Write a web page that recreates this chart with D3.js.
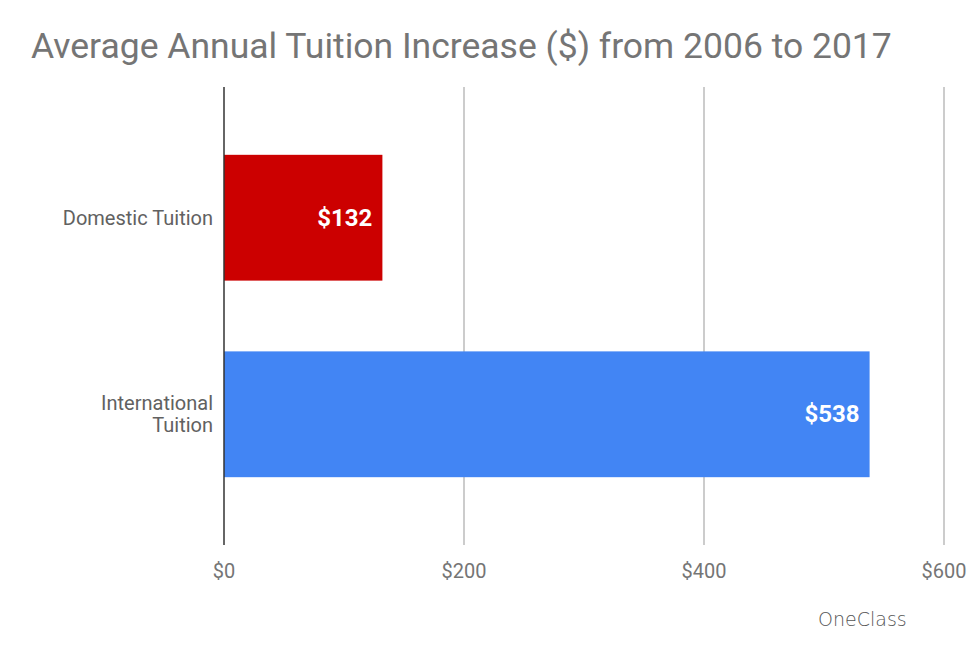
<!DOCTYPE html>
<html><head><meta charset="utf-8">
<script src="https://cdn.jsdelivr.net/npm/d3@7"></script>
<style>body{margin:0;background:#fff;font-family:Roboto,sans-serif;}</style>
</head><body>
<script>
var categories = [["Domestic Tuition"], ["International", "Tuition"]],
    values = [132, 538],
    colors = ["#cc0000", "#4285f4"],
    ticks = [0, 200, 400, 600];

var width = 975, height = 649;
var svg = d3.select("body").append("svg").attr("width", width).attr("height", height);

var x = d3.scaleLinear().domain([0, 600]).range([224, 944]);
var y = d3.scaleBand().domain([0, 1]).range([87, 545]).paddingInner(0.36).paddingOuter(0.345);

svg.append("text").attr("x", 31).attr("y", 58)
   .style("font-size", "35.5px").style("fill", "#757575")
   .text("Average Annual Tuition Increase ($) from 2006 to 2017");

// gridlines
svg.selectAll(".grid").data(ticks.slice(1)).enter().append("line")
   .attr("x1", function(d) {return x(d); }).attr("x2", function(d) {return x(d); })
   .attr("y1", 87).attr("y2", 545).style("stroke", "#cccccc").style("stroke-width", 2);

svg.selectAll(".tick").data(ticks).enter().append("text")
   .attr("x", function(d) {return x(d); }).attr("y", 578)
   .attr("text-anchor", "middle").style("font-size", "20px").style("fill", "#757575")
   .text(function(d) {return "$" + d; });

svg.selectAll(".bar").data(values).enter().append("rect")
   .attr("x", x(0)).attr("y", function(d, i) {return y(i); })
   .attr("width", function(d) {return x(d) - x(0); })
   .attr("height", y.bandwidth())
   .style("fill", function(d, i) {return colors[i]; });

svg.selectAll(".lbl").data(values).enter().append("text")
   .attr("x", function(d) {return x(d) - 10; })
   .attr("y", function(d, i) {return y(i) + y.bandwidth() / 2 + 8; })
   .attr("text-anchor", "end").style("font-size", "24px").style("font-weight", "bold").style("fill", "#fff")
   .text(function(d) {return "$" + d; });

categories.forEach(function(lines, i) {
    var t = svg.append("text").attr("text-anchor", "end")
               .style("font-size", "20px").style("fill", "#616161");
    var cy = y(i) + y.bandwidth() / 2 + 7 - (lines.length - 1) * 11;
    lines.forEach(function(s, j) {
        t.append("tspan").attr("x", 213).attr("y", cy + j * 22).text(s);
    });
});

svg.append("line").attr("x1", x(0)).attr("x2", x(0)).attr("y1", 87).attr("y2", 545)
   .style("stroke", "#333").style("stroke-width", 1.5);

svg.append("text").attr("x", 818).attr("y", 626)
   .style("font-family", "'DejaVu Sans',sans-serif").style("font-weight", "300").style("font-size", "19px").style("fill", "#555")
   .text("OneClass");
</script>
</body></html>
